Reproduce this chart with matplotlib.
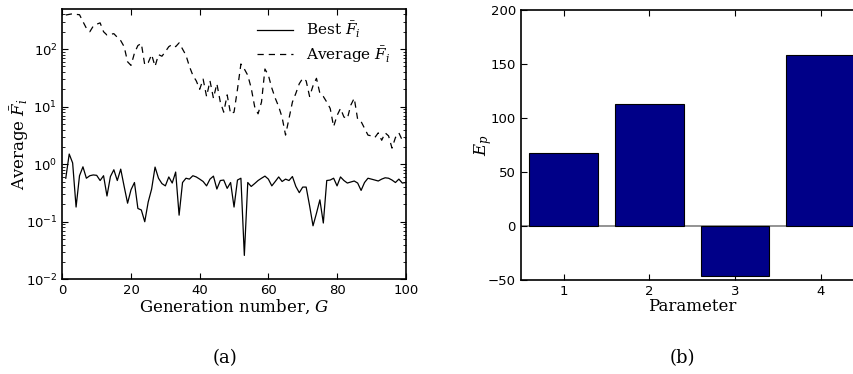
#Fitness history and parameter effects

import matplotlib
matplotlib.use('Agg')
import matplotlib.pyplot as plt
from matplotlib.ticker import FuncFormatter, LogLocator, NullFormatter
import numpy as np

plt.rcParams['font.family'] = ['DejaVu Sans']
plt.rcParams['mathtext.fontset'] = 'custom'
plt.rcParams['mathtext.rm'] = 'DejaVu Serif'
plt.rcParams['mathtext.it'] = 'DejaVu Serif:italic'
plt.rcParams['mathtext.sf'] = 'DejaVu Sans'
serif = ['DejaVu Serif']

generations = list(range(1, 101))
best_F = [0.57, 1.5, 1.05, 0.18, 0.63, 0.9, 0.57, 0.63, 0.65, 0.64,
          0.52, 0.63, 0.28, 0.61, 0.8, 0.52, 0.82, 0.41, 0.21, 0.36,
          0.48, 0.17, 0.16, 0.10, 0.22, 0.37, 0.89, 0.57, 0.46, 0.42,
          0.6, 0.47, 0.73, 0.13, 0.48, 0.57, 0.55, 0.63, 0.6, 0.55,
          0.5, 0.42, 0.55, 0.62, 0.37, 0.52, 0.53, 0.38, 0.48, 0.18,
          0.53, 0.57, 0.026, 0.48, 0.41, 0.46, 0.52, 0.57, 0.62, 0.55,
          0.42, 0.5, 0.6, 0.5, 0.55, 0.52, 0.61, 0.41, 0.32, 0.4,
          0.4, 0.19, 0.085, 0.14, 0.24, 0.095, 0.52, 0.53, 0.57, 0.42,
          0.6, 0.52, 0.47, 0.49, 0.51, 0.47, 0.35, 0.48, 0.57, 0.55,
          0.53, 0.51, 0.55, 0.58, 0.57, 0.53, 0.48, 0.55, 0.47, 0.48]
avg_F = [390, 400, 410, 400, 395, 300, 230, 200, 250, 270,
         285, 200, 175, 180, 185, 160, 140, 110, 60, 52,
         85, 115, 125, 53, 58, 80, 50, 80, 75, 90,
         110, 120, 110, 128, 100, 78, 50, 35, 28, 20,
         30, 15, 28, 14, 25, 12, 8, 16, 7.5, 8,
         20, 55, 45, 35, 21, 10, 7.5, 12, 45, 35,
         21, 14, 10, 6.5, 3.2, 6.2, 12, 17, 25, 31,
         28, 15, 23, 31, 17, 15, 12, 9.3, 4.5, 7,
         9.3, 6.6, 6.2, 10.6, 14, 6, 5.5, 4.2, 3.2, 3.1,
         2.9, 3.5, 2.6, 3.5, 3.1, 1.9, 2.9, 3.5, 2.6, 2.8]

params = [1, 2, 3, 4]
E_p = [68, 113, -46, 158]

fig = plt.figure(figsize=(8.54, 3.74), dpi=100)

# (a) fitness history
ax1 = fig.add_axes([0.073, 0.2532, 0.4021, 0.7219])
ax1.semilogy(generations, best_F, color='k', lw=0.9, label=r'Best $\bar{F}_i$')
ax1.semilogy(generations, avg_F, color='k', lw=0.9, linestyle=(0, (5, 4)),
             label=r'Average $\bar{F}_i$')
ax1.set_xlim(0, 100)
ax1.set_ylim(1e-2, 490)
ax1.set_xticks([0, 20, 40, 60, 80, 100])
ax1.yaxis.set_major_locator(LogLocator(base=10, numticks=10))
ax1.yaxis.set_minor_locator(LogLocator(base=10, subs=np.arange(2, 10), numticks=20))
ax1.yaxis.set_major_formatter(FuncFormatter(lambda v, p: r'$\mathsf{10^{%d}}$' % round(np.log10(v))))
ax1.yaxis.set_minor_formatter(NullFormatter())
ax1.tick_params(which='both', direction='in', top=True, right=True, labelsize=9.5)
ax1.tick_params(which='major', length=4)
ax1.tick_params(which='minor', length=2)
ax1.set_xlabel(r'Generation number, $G$', family=serif, fontsize=12, labelpad=0)
ax1.set_ylabel(r'Average $\bar{F}_i$', family=serif, fontsize=12, va='center')
ax1.yaxis.set_label_coords(-0.125, 0.5)
leg = ax1.legend(loc='upper right', frameon=False, prop={'family': serif, 'size': 11},
                 handlelength=2.4, borderaxespad=0.3, labelspacing=0.25,
                 bbox_to_anchor=(0.985, 1.0))
for s in ax1.spines.values():
    s.set_linewidth(1.2)

# (b) parameter effects
ax2 = fig.add_axes([0.6097, 0.2513, 0.4014, 0.722])
ax2.axhline(0, color='0.5', lw=1.2, zorder=1)
ax2.bar(params, E_p, width=0.8, color='#000088', edgecolor='k', lw=0.8, zorder=2)
ax2.set_xlim(0.5, 4.5)
ax2.set_ylim(-50, 200)
ax2.set_xticks(params)
ax2.set_yticks([-50, 0, 50, 100, 150, 200])
ax2.tick_params(direction='in', top=True, right=True, length=4, labelsize=9.5)
ax2.set_xlabel('Parameter', family=serif, fontsize=12, labelpad=0)
ax2.set_ylabel(r'$E_p$', family=serif, fontsize=12, va='center')
ax2.yaxis.set_label_coords(-0.11, 0.5)
for s in ax2.spines.values():
    s.set_linewidth(1.2)

fig.text(0.2635, 0.043, '(a)', family=serif, fontsize=13, ha='center', va='center')
fig.text(0.799, 0.043, '(b)', family=serif, fontsize=13, ha='center', va='center')

fig.savefig('out.png', dpi=100)
